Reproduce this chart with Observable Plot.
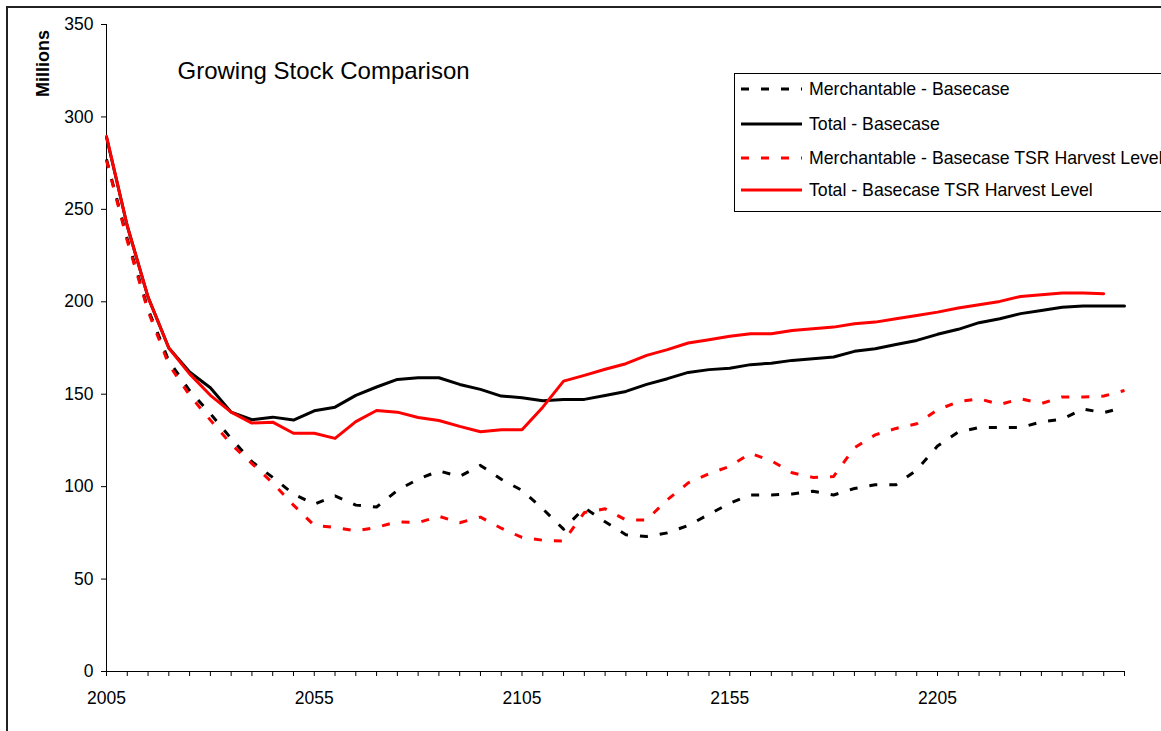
<!DOCTYPE html>
<html>
<head>
<meta charset="utf-8">
<script src="https://cdn.jsdelivr.net/npm/d3@7"></script>
<script src="https://cdn.jsdelivr.net/npm/@observablehq/plot@0.6"></script>
<style>
html, body { margin: 0; padding: 0; background: #fff; overflow: hidden; }
#wrap { position: relative; width: 1161px; height: 731px; font-family: "Liberation Sans", Arial, sans-serif; color: #000; }
#border { position: absolute; left: 6px; top: 6px; width: 1300px; height: 900px; border: 2px solid #222; box-sizing: border-box; pointer-events: none; }
#legend { position: absolute; left: 734px; top: 73px; width: 470px; height: 139px; border: 1px solid #000; background: #fff; box-sizing: border-box; }
.item { position: absolute; left: 6px; height: 22px; display: flex; align-items: center; font-size: 17.7px; white-space: nowrap; }
.item svg { margin-right: 6px; }
</style>
</head>
<body>
<div id="wrap"><div id="border"></div></div>
<script>
// ---- data ----
const years = [2005, 2010, 2015, 2020, 2025, 2030, 2035, 2040, 2045, 2050,
               2055, 2060, 2065, 2070, 2075, 2080, 2085, 2090, 2095, 2100,
               2105, 2110, 2115, 2120, 2125, 2130, 2135, 2140, 2145, 2150,
               2155, 2160, 2165, 2170, 2175, 2180, 2185, 2190, 2195, 2200,
               2205, 2210, 2215, 2220, 2225, 2230, 2235, 2240, 2245, 2250];
const xLabels = [2005, 2055, 2105, 2155, 2205];
const yTicks = [0, 50, 100, 150, 200, 250, 300, 350];

const mercBase = [277, 234, 196, 168, 152, 139.5, 126, 113.5, 105, 96,
                  90.5, 95, 90, 89, 98, 104, 108.5, 105.5, 111.5, 104,
                  98, 88, 77, 88.5, 81, 74, 73, 75, 79, 85,
                  91, 95.5, 95.5, 96, 97.5, 95.5, 99, 101, 101, 109,
                  122, 129.5, 132, 132, 132, 135, 136.5, 142, 140, 143];
const totBase = [289, 241, 202.5, 175, 162, 153.5, 140.3, 136.2, 137.6, 136,
                 141, 143, 149.4, 153.9, 158, 158.9, 158.9, 155.3, 152.6, 149,
                 148.1, 146.5, 147.2, 147.2, 149.3, 151.5, 155.3, 158.4, 161.8, 163.3,
                 164.1, 166, 166.8, 168.3, 169.2, 170.1, 173.2, 174.6, 176.9, 179.1,
                 182.4, 185.1, 188.7, 190.8, 193.6, 195.3, 197.1, 197.7, 197.7, 197.7];
const mercTSR = [276.5, 233, 195, 166, 149.5, 136, 123, 112.5, 102, 90,
                 79, 78, 76, 78, 81, 80.5, 84, 80.5, 83.5, 77.5,
                 72.5, 71, 70.5, 86, 88, 82, 82, 93, 102, 107,
                 111, 118, 114, 107.5, 105, 105.5, 121, 128, 131.5, 134,
                 141.5, 146, 147.5, 144.5, 147.5, 145, 148.5, 148.5, 149, 152];
const totTSR = [289.5, 241, 202.5, 175, 161, 149.4, 140.3, 134.4, 134.9, 128.9,
                128.9, 126.1, 135.2, 141.2, 140.3, 137.4, 135.8, 132.6, 129.7, 130.8,
                130.8, 143, 157.1, 160.2, 163.5, 166.5, 171, 174.1, 177.7, 179.5,
                181.3, 182.7, 182.7, 184.5, 185.4, 186.3, 188.1, 189, 190.8, 192.6,
                194.4, 196.6, 198.4, 200.2, 202.9, 203.8, 204.7, 204.7, 204.4];

const seriesNames = ["Merchantable - Basecase", "Total - Basecase",
                     "Merchantable - Basecase TSR Harvest Level", "Total - Basecase TSR Harvest Level"];
const seriesValues = [mercBase, totBase, mercTSR, totTSR];
const titleText = "Growing Stock Comparison";
const yLabel = "Millions";

// ---- styles ----
const seriesColors = ["#000000", "#000000", "#ff0000", "#ff0000"];
const seriesDash = ["8,12", null, "8,12", null];

const lineMarks = seriesValues.map((vals, k) =>
  Plot.line(vals.map((v, i) => ({year: years[i], value: v})), {
    x: "year", y: "value",
    stroke: seriesColors[k], strokeWidth: 3,
    strokeDasharray: seriesDash[k] || undefined,
    strokeLinecap: seriesDash[k] ? "butt" : "round",
    strokeLinejoin: "round"
  })
);

const chart = Plot.plot({
  width: 1161,
  height: 731,
  marginLeft: 106,
  marginRight: 37,
  marginTop: 24,
  marginBottom: 60,
  style: {fontFamily: '"Liberation Sans", Arial, sans-serif', fontSize: "17px", color: "#000", background: "transparent", overflow: "visible"},
  x: {domain: [2005, 2250]},
  y: {domain: [0, 350]},
  marks: [
    Plot.axisY({ticks: yTicks, tickSize: 5, tickPadding: 8, label: null, fontSize: 17.5, tickFormat: d => String(d)}),
    Plot.axisX({ticks: years, tickSize: 5, tickPadding: 15, label: null, fontSize: 17.5,
                tickFormat: d => xLabels.includes(d) ? String(d) : ""}),
    Plot.ruleY([0], {stroke: "#000", strokeWidth: 1}),
    Plot.ruleX([2005], {stroke: "#000", strokeWidth: 1}),
    ...lineMarks,
    Plot.text([titleText], {text: d => d, frameAnchor: "top-left", dx: 71, dy: 46.5,
                            textAnchor: "start", lineAnchor: "middle", fontSize: 24}),
    Plot.text([yLabel], {text: d => d, frameAnchor: "top-left", dx: -63, dy: 39, rotate: -90,
                         textAnchor: "middle", lineAnchor: "middle", fontSize: 18, fontWeight: "bold"})
  ]
});

const wrap = document.getElementById("wrap");
wrap.insertBefore(chart, wrap.firstChild);

// ---- legend ----
const legend = document.createElement("div");
legend.id = "legend";
const rowTops = [4, 39, 73, 105];
seriesNames.forEach((name, k) => {
  const item = document.createElement("div");
  item.className = "item";
  item.style.top = rowTops[k] + "px";
  const ns = "http://www.w3.org/2000/svg";
  const svg = document.createElementNS(ns, "svg");
  svg.setAttribute("width", 62);
  svg.setAttribute("height", 8);
  const ln = document.createElementNS(ns, "line");
  ln.setAttribute("x1", 0); ln.setAttribute("x2", 61);
  ln.setAttribute("y1", 4); ln.setAttribute("y2", 4);
  ln.setAttribute("stroke", seriesColors[k]);
  ln.setAttribute("stroke-width", 3);
  if (seriesDash[k]) ln.setAttribute("stroke-dasharray", seriesDash[k]);
  svg.appendChild(ln);
  item.appendChild(svg);
  const span = document.createElement("span");
  span.textContent = name;
  item.appendChild(span);
  legend.appendChild(item);
});
wrap.appendChild(legend);
</script>
</body>
</html>
